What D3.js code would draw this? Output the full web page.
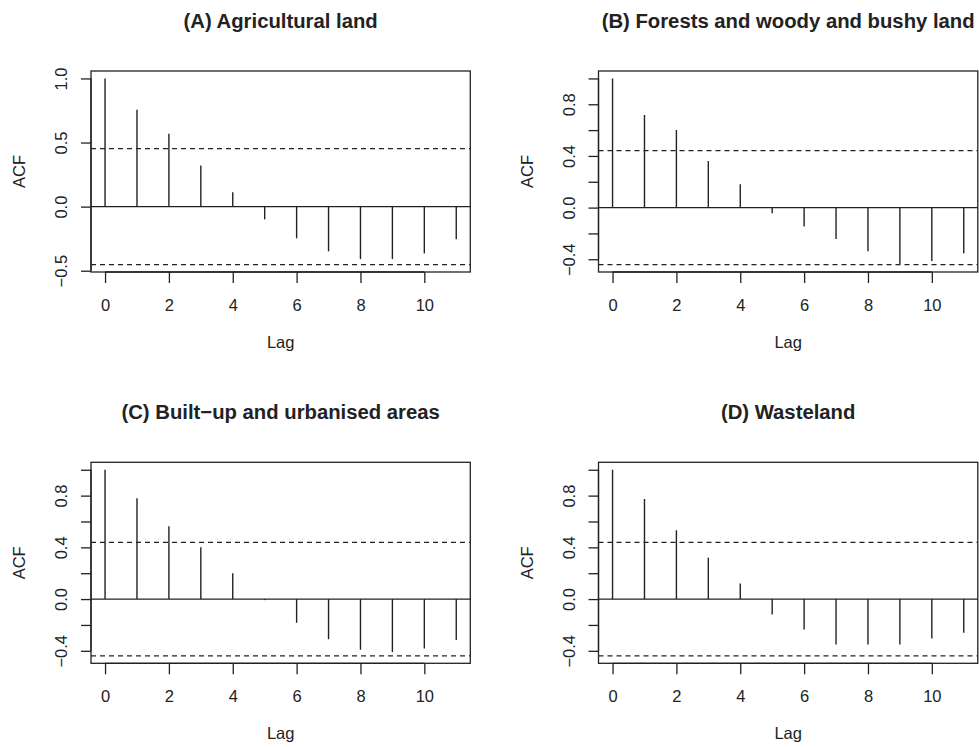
<!DOCTYPE html>
<html>
<head>
<meta charset="utf-8">
<script src="https://cdn.jsdelivr.net/npm/d3@7"></script>
<style>
  html, body { margin: 0; padding: 0; background: #fff; }
  svg { display: block; font-family: "Liberation Sans", Arial, Helvetica, sans-serif; }
</style>
</head>
<body>
<svg id="chart" width="979" height="747"></svg>
<script>
// ---- data ----
const lags = [0, 1, 2, 3, 4, 5, 6, 7, 8, 9, 10, 11];
const acfA = [1.0, 0.755, 0.568, 0.320, 0.112, -0.099, -0.247, -0.349, -0.409, -0.409, -0.365, -0.255];
const acfB = [1.0, 0.717, 0.601, 0.361, 0.181, -0.044, -0.147, -0.243, -0.338, -0.436, -0.413, -0.354];
const acfC = [1.0, 0.779, 0.563, 0.400, 0.199, -0.008, -0.183, -0.310, -0.392, -0.410, -0.382, -0.317];
const acfD = [1.0, 0.774, 0.532, 0.320, 0.121, -0.119, -0.235, -0.351, -0.351, -0.351, -0.305, -0.261];
const titles = ["(A) Agricultural land", "(B) Forests and woody and bushy land",
                "(C) Built\u2212up and urbanised areas", "(D) Wasteland"];
const confLimits = [0.452, 0.441, 0.439, 0.439];
const xTicks = [0, 2, 4, 6, 8, 10];
const yTicksA = [-0.5, 0.0, 0.5, 1.0];
const yLabelsA = ["\u22120.5", "0.0", "0.5", "1.0"];
const yTicksBCD = [-0.4, -0.2, 0.0, 0.2, 0.4, 0.6, 0.8, 1.0];
const yLabelsBCD = ["\u22120.4", "", "0.0", "", "0.4", "", "0.8", ""];

const series = [acfA, acfB, acfC, acfD];
const yTickSets = [yTicksA, yTicksBCD, yTicksBCD, yTicksBCD];
const yLabelSets = [yLabelsA, yLabelsBCD, yLabelsBCD, yLabelsBCD];

// ---- layout ----
const boxLefts = [91, 598.5];
const boxTops = [71, 462.3];
const acfLabelX = [19, 527];
const boxW = 379.3, boxH = 201;
const ink = "#222";

const svg = d3.select("#chart");

series.forEach((vals, i) => {
  const left = boxLefts[i % 2], top = boxTops[Math.floor(i / 2)];
  const clim = confLimits[i];
  const g = svg.append("g").attr("transform", `translate(${left},${top})`);

  // R-style ranges: data range extended by 4% on each side
  const xMin = d3.min(lags), xMax = d3.max(lags);
  const xPad = (xMax - xMin) * 0.04;
  const x = d3.scaleLinear().domain([xMin - xPad, xMax + xPad]).range([0, boxW]);
  const yLo = Math.min(-clim, d3.min(vals)), yHi = Math.max(clim, d3.max(vals));
  const yPad = (yHi - yLo) * 0.04;
  const y = d3.scaleLinear().domain([yLo - yPad, yHi + yPad]).range([boxH, 0]);

  // spikes
  g.selectAll("line.spike").data(lags).join("line")
    .attr("class", "spike")
    .attr("x1", d => x(d)).attr("x2", d => x(d))
    .attr("y1", y(0)).attr("y2", (d, k) => y(vals[k]))
    .attr("stroke", ink).attr("stroke-width", 1.4);

  // zero line
  g.append("line").attr("x1", 0).attr("x2", boxW).attr("y1", y(0)).attr("y2", y(0))
    .attr("stroke", ink).attr("stroke-width", 1.4);

  // confidence limits
  [clim, -clim].forEach(c => {
    g.append("line").attr("x1", 0).attr("x2", boxW).attr("y1", y(c)).attr("y2", y(c))
      .attr("stroke", ink).attr("stroke-width", 1.3).attr("stroke-dasharray", "5,4");
  });

  // box
  g.append("rect").attr("x", 0).attr("y", 0).attr("width", boxW).attr("height", boxH)
    .attr("fill", "none").attr("stroke", ink).attr("stroke-width", 1.3);

  // x axis
  const xAxis = d3.axisBottom(x).tickValues(xTicks).tickSize(11).tickPadding(16)
    .tickFormat(d3.format("d"));
  const gx = g.append("g").attr("transform", `translate(0,${boxH})`).call(xAxis);
  gx.select(".domain").attr("d", `M${x(xTicks[0])},0H${x(xTicks[xTicks.length - 1])}`)
    .attr("stroke", ink).attr("stroke-width", 1.3);
  gx.selectAll(".tick line").attr("stroke", ink).attr("stroke-width", 1.3);
  gx.selectAll(".tick text").attr("fill", ink).style("font-size", "16.5px")
    .style("font-family", "Liberation Sans, Arial, sans-serif");

  // y axis
  const yt = yTickSets[i], yl = yLabelSets[i];
  const yAxis = d3.axisLeft(y).tickValues(yt).tickSize(10).tickPadding(0)
    .tickFormat((d, k) => yl[k]);
  const gy = g.append("g").call(yAxis);
  gy.select(".domain").attr("d", `M0,${y(yt[0])}V${y(yt[yt.length - 1])}`)
    .attr("stroke", ink).attr("stroke-width", 1.3);
  gy.selectAll(".tick line").attr("stroke", ink).attr("stroke-width", 1.3);
  gy.selectAll(".tick text")
    .attr("fill", ink)
    .attr("x", null).attr("dy", null)
    .attr("transform", "translate(-30,0) rotate(-90)")
    .attr("text-anchor", "middle").attr("dominant-baseline", "central")
    .style("font-size", "16.5px")
    .style("font-family", "Liberation Sans, Arial, sans-serif");

  // axis titles
  g.append("text").attr("x", boxW / 2).attr("y", boxH + 76).attr("text-anchor", "middle")
    .attr("fill", ink).style("font-size", "16.5px").text("Lag");
  g.append("text").attr("transform", `translate(${acfLabelX[i % 2] - left},${boxH / 2}) rotate(-90)`)
    .attr("text-anchor", "middle").attr("dominant-baseline", "central")
    .attr("fill", ink).style("font-size", "16.5px").text("ACF");

  // panel title
  g.append("text").attr("x", boxW / 2).attr("y", -43).attr("text-anchor", "middle")
    .attr("fill", ink).style("font-size", "20.3px").style("font-weight", "bold").text(titles[i]);
});
</script>
</body>
</html>
